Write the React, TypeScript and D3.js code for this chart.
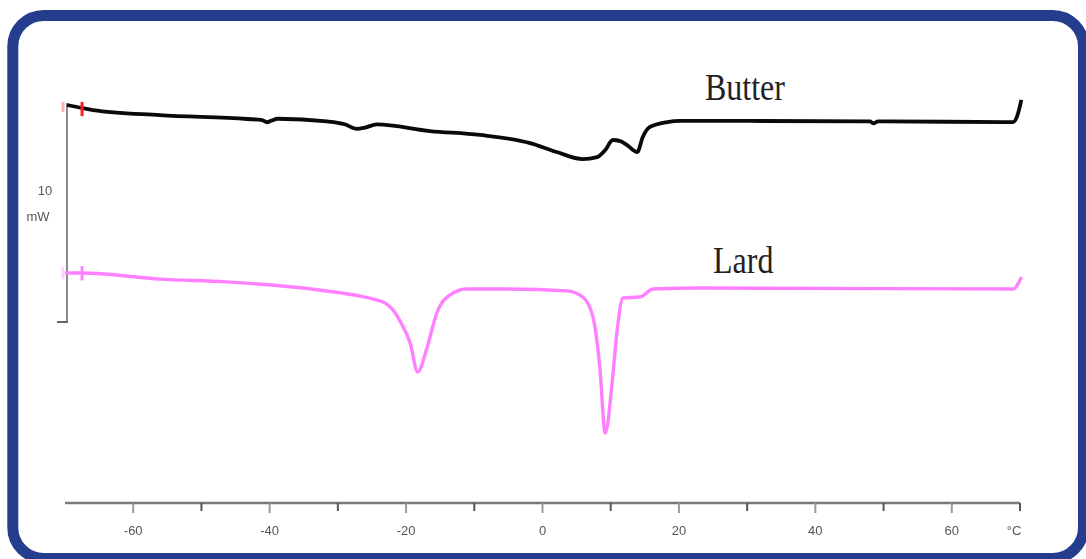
import React from "react";
import * as d3 from "d3";

// DSC thermograms (cooling), heat flow in mW relative to the scale-bar origin
const butterTemp = [-69.7, -67.5, -65.9, -56.1, -43.3, -41.1, -40.4, -39.7, -38.8, -31.6, -29.0, -27.2, -26.0, -24.3, -16.5, -9.2, -1.8, 2.1, 5.9, 8.0, 9.2, 10.3, 11.4, 12.4, 13.9, 14.7, 15.7, 18.3, 20.2, 30.4, 48.0, 48.5, 49.2, 69.0, 69.6, 70.2];
const butterFlow = [-0.09, -0.23, -0.32, -0.55, -0.73, -0.78, -0.88, -0.80, -0.72, -0.84, -0.97, -1.18, -1.12, -0.98, -1.28, -1.46, -1.83, -2.24, -2.56, -2.47, -2.15, -1.69, -1.74, -1.92, -2.24, -1.55, -1.10, -0.87, -0.82, -0.82, -0.84, -0.93, -0.84, -0.87, -0.59, 0.14];

const lardTemp = [-70.0, -67.5, -56.1, -46.3, -36.6, -29.3, -27.0, -24.5, -23.0, -21.8, -20.9, -19.4, -18.3, -16.9, -15.5, -13.6, -11.1, -6.2, 3.6, 5.9, 7.4, 8.4, 9.2, 10.2, 10.9, 11.8, 14.3, 16.2, 23.1, 69.1, 69.7, 70.2];
const lardFlow = [-7.76, -7.76, -8.04, -8.17, -8.40, -8.68, -8.80, -8.98, -9.15, -9.50, -9.95, -10.96, -12.28, -11.14, -9.59, -8.77, -8.49, -8.49, -8.58, -8.86, -9.77, -12.05, -15.07, -12.79, -10.50, -8.90, -8.86, -8.49, -8.45, -8.49, -8.26, -7.95];

const tempTicks = [-60, -50, -40, -30, -20, -10, 0, 10, 20, 30, 40, 50, 60, 70];
const tempLabels = [-60, -40, -20, 0, 20, 40, 60];
const scaleBarMw = 10;

const W = 1086;
const H = 559;

export default function App() {
  const x = d3.scaleLinear().domain([-70, 70]).range([65, 1020]);
  const y = d3.scaleLinear().domain([0, -scaleBarMw]).range([103, 322]);

  const line = d3
    .line<[number, number]>()
    .x((d) => x(d[0]))
    .y((d) => y(d[1]))
    .curve(d3.curveMonotoneX);

  const butter = butterTemp.map((t, i) => [t, butterFlow[i]] as [number, number]);
  const lard = lardTemp.map((t, i) => [t, lardFlow[i]] as [number, number]);

  const axisY = 503;
  const barX = 67;

  return (
    <svg
      width={W}
      height={H}
      style={{ position: "fixed", left: 0, top: 0, background: "#fff" }}
    >
      <defs>
        <filter id="soft" x="-20%" y="-20%" width="140%" height="140%">
          <feGaussianBlur stdDeviation="0.45" />
        </filter>
      </defs>
      <rect
        x={12.8}
        y={15.4}
        width={1070.7}
        height={543}
        rx={31}
        ry={31}
        fill="#fff"
        stroke="#253d8d"
        strokeWidth={11}
      />

      {/* heat-flow scale bar */}
      <line x1={barX} x2={barX} y1={y(0)} y2={y(-scaleBarMw)} stroke="#8a8a8a" strokeWidth={2} />
      <line x1={barX - 10} x2={barX + 1} y1={y(-scaleBarMw)} y2={y(-scaleBarMw)} stroke="#666" strokeWidth={2} />
      <g filter="url(#soft)" fill="#555" fontFamily="Arial, 'Liberation Sans', sans-serif" fontSize={13} textAnchor="middle">
        <text x={45} y={195}>{scaleBarMw}</text>
        <text x={38} y={221}>mW</text>
      </g>

      {/* temperature axis */}
      <line x1={x(-70)} x2={x(70)} y1={axisY} y2={axisY} stroke="#7a7a7a" strokeWidth={2.5} />
      {tempTicks.map((t) => {
        const major = tempLabels.includes(t);
        return (
          <line
            key={t}
            x1={x(t)}
            x2={x(t)}
            y1={axisY}
            y2={axisY + (major ? 10 : 8)}
            stroke={major ? "#9a9a9a" : "#555"}
            strokeWidth={2}
          />
        );
      })}
      <g filter="url(#soft)" fill="#555" fontFamily="Arial, 'Liberation Sans', sans-serif" fontSize={13} textAnchor="middle">
        {tempLabels.map((t) => (
          <text key={t} x={x(t)} y={535}>
            {t}
          </text>
        ))}
        <text x={x(70) - 6} y={535}>°C</text>
      </g>

      {/* curves */}
      <path d={line(butter) ?? ""} fill="none" stroke="#0a0a0a" strokeWidth={3.8} strokeLinejoin="round" />
      <path d={line(lard) ?? ""} fill="none" stroke="#ff80ff" strokeWidth={3.4} strokeLinejoin="round" />

      {/* start markers */}
      <line x1={x(-67.5)} x2={x(-67.5)} y1={y(0.05)} y2={y(-0.6)} stroke="#ff1a1a" strokeWidth={3} />
      <line x1={barX - 4} x2={barX - 4} y1={y(0.05)} y2={y(-0.4)} stroke="#ffb0b0" strokeWidth={3} />
      <line x1={x(-67.5)} x2={x(-67.5)} y1={y(-7.45)} y2={y(-8.1)} stroke="#ff80ff" strokeWidth={3} />
      <line x1={barX - 4} x2={barX - 4} y1={y(-7.5)} y2={y(-8.05)} stroke="#ffd0ff" strokeWidth={3} />

      {/* series labels */}
      <g fill="#222" fontFamily="'Liberation Serif', 'Times New Roman', serif" fontSize={32}>
        <text transform="translate(705,100) scale(1,1.2)">Butter</text>
        <text transform="translate(713,273) scale(1,1.2)">Lard</text>
      </g>
    </svg>
  );
}
